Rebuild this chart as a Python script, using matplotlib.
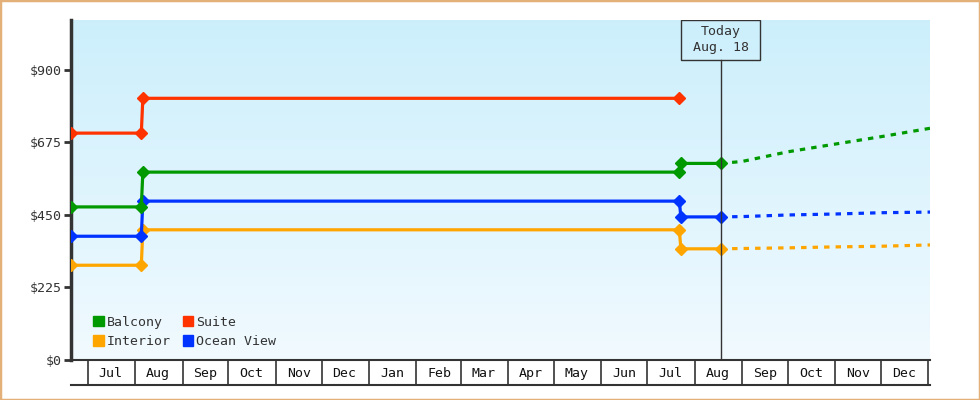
#!/usr/bin/env python
# Cabin price history with projection, step lines per cabin type.

import numpy as np
import pandas as pd
import matplotlib
matplotlib.use('Agg')
import matplotlib.pyplot as plt
import matplotlib.dates as mdates
from matplotlib.patches import Rectangle, Patch
from matplotlib.lines import Line2D

plt.rcParams['font.family'] = ['DejaVu Sans Mono']

# price history (dates of each observed point)
hist_dates = pd.to_datetime(['2023-06-20', '2023-08-05', '2023-08-06',
                             '2024-07-22', '2024-07-23', '2024-08-18'])
balcony = [475, 475, 583, 583, 610, 610]
interior = [294, 294, 404, 404, 345, 345]
ocean_view = [384, 384, 493, 493, 444, 444]
suite_dates = hist_dates[:4]
suite = [704, 704, 812, 812]

# projection from today on
proj_dates = pd.to_datetime(['2024-08-18', '2024-09-01', '2024-10-01',
                             '2024-11-01', '2024-12-01', '2025-01-02'])
balcony_proj = [610, 616, 646, 670, 693, 719]
interior_proj = [345, 346, 348, 351, 353, 357]
ocean_view_proj = [444, 445, 450, 453, 457, 459]

today = pd.Timestamp('2024-08-18')
today_label = 'Today\nAug. 18'
yticks = [0, 225, 450, 675, 900]
ytick_labels = ['$0', '$225', '$450', '$675', '$900']
x_start, x_end = pd.Timestamp('2023-06-20'), pd.Timestamp('2025-01-02')

GREEN, RED, ORANGE, BLUE = '#009900', '#ff3300', '#ffa500', '#0033ff'
DARK = '#333333'

fig = plt.figure(figsize=(9.8, 4), dpi=100, facecolor='white')
ax = fig.add_axes([71/980, 40/400, 859/980, 340/400])

# gradient background
grad = np.linspace(0, 1, 256).reshape(-1, 1)
top = np.array([0.80, 0.937, 0.988])
bot = np.array([0.945, 0.98, 1.0])
img = top[None, None, :] * (1 - grad[:, :, None]) + bot[None, None, :] * grad[:, :, None]
ax.imshow(img, extent=[0, 1, 0, 1], transform=ax.transAxes, aspect='auto', zorder=0)

lw = 2.3
ms = 6
series = [(hist_dates, balcony, GREEN), (suite_dates, suite, RED),
          (hist_dates, interior, ORANGE), (hist_dates, ocean_view, BLUE)]
# draw order: orange first, then blue, green, red on top
for d, v, c in [series[2], series[3], series[0], series[1]]:
    ax.plot(d, v, color=c, lw=lw, marker='D', ms=ms, zorder=3)
for v, c in [(interior_proj, ORANGE), (ocean_view_proj, BLUE), (balcony_proj, GREEN)]:
    ax.plot(proj_dates, v, color=c, lw=lw, ls=(0, (1.7, 1.9)), zorder=3)

# today marker: line up to a box at the top of the plot
box_h = 40 / 340
box_w = pd.Timedelta(days=52)
xt = ax.get_xaxis_transform()
ax.add_line(Line2D([today, today], [0, 1 - box_h], transform=xt, color=DARK, lw=1, zorder=4))
ax.add_patch(Rectangle((today - box_w / 2, 1 - box_h), box_w, box_h, transform=xt,
                       fill=False, edgecolor=DARK, lw=1, zorder=4))
ax.text(today, 1 - box_h / 2, today_label, transform=xt, ha='center', va='center',
        fontsize=9.5, color=DARK, linespacing=1.3, zorder=5)

ax.set_xlim(x_start, x_end)
ax.set_ylim(0, 1055)

ax.set_yticks(yticks)
ax.set_yticklabels(ytick_labels)
ax.tick_params(axis='y', direction='out', length=5, width=2, color=DARK,
               labelsize=9.5, labelcolor=DARK, pad=2)

# month boundaries as long major ticks, labels centred via minor ticks
ax.xaxis.set_major_locator(mdates.MonthLocator())
ax.xaxis.set_major_formatter(plt.NullFormatter())
ax.xaxis.set_minor_locator(mdates.MonthLocator(bymonthday=16))
ax.xaxis.set_minor_formatter(mdates.DateFormatter('%b'))
ax.tick_params(axis='x', which='major', direction='out', length=18, width=1.2, color=DARK)
ax.tick_params(axis='x', which='minor', length=0, labelsize=9.5, labelcolor='#111111', pad=5)

for s in ['top', 'right']:
    ax.spines[s].set_visible(False)
ax.spines['left'].set_linewidth(2.5)
ax.spines['left'].set_color(DARK)
ax.spines['bottom'].set_linewidth(1.5)
ax.spines['bottom'].set_color(DARK)
ax.add_line(Line2D([0, 1], [-25/340, -25/340], transform=ax.transAxes,
                   color=DARK, lw=1.5, clip_on=False))

handles = [Patch(color=GREEN, label='Balcony'), Patch(color=ORANGE, label='Interior'),
           Patch(color=RED, label='Suite'), Patch(color=BLUE, label='Ocean View')]
ax.legend(handles=handles, ncol=2, loc='lower left', bbox_to_anchor=(0.012, 0.0),
          frameon=False, fontsize=9.5, handlelength=0.8, handleheight=0.8,
          handletextpad=0.2, columnspacing=0.95, labelspacing=0.5, labelcolor=DARK)

fig.add_artist(Rectangle((0, 0), 1, 1, transform=fig.transFigure, fill=False,
                         edgecolor='#e4b07a', lw=2.5))

fig.savefig('out.png', dpi=100)
